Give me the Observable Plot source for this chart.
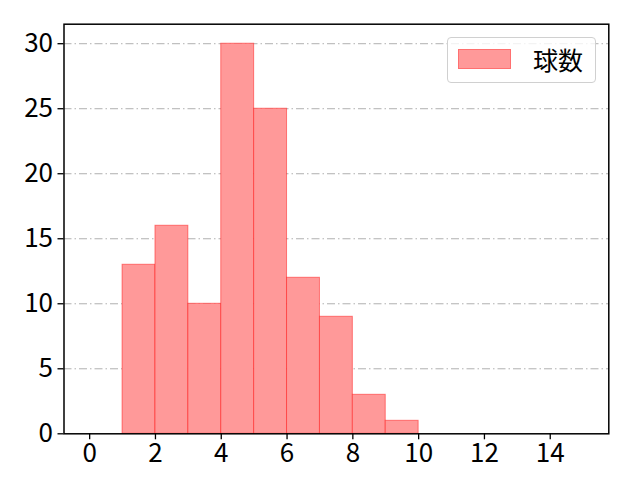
<!DOCTYPE html>
<html><head><meta charset="utf-8">
<script src="https://cdn.jsdelivr.net/npm/d3@7"></script>
<script src="https://cdn.jsdelivr.net/npm/@observablehq/plot@0.6"></script>
<style>
body{margin:0;background:#fff;font-family:"Noto Sans CJK JP","DejaVu Sans",sans-serif;}
#wrap{position:relative;width:640px;height:480px;}
#legend{position:absolute;left:447px;top:37px;width:149px;height:46px;border:1px solid #d0d0d0;border-radius:4px;background:rgba(255,255,255,0.8);box-sizing:border-box;z-index:2;}
#legend .sw{position:absolute;left:10px;top:11px;width:53px;height:20px;background:#ff9999;border:1px solid #ff7070;box-sizing:border-box;}
#legend .tx{position:absolute;left:85px;top:4px;font-size:25px;color:#000;line-height:34px;}
</style></head>
<body><div id="wrap"><div id="legend"><div class="sw"></div><div class="tx">球数</div></div></div>
<script>
const binStart = [1,2,3,4,5,6,7,8,9];
const binEnd = [2,3,4,5,6,7,8,9,10];
const counts = [13,16,10,30,25,12,9,3,1];
const xTicks = [0,2,4,6,8,10,12,14];
const yTicks = [0,5,10,15,20,25,30];
const seriesName = "球数";

const data = binStart.map((s,i)=>({x1:s,x2:binEnd[i],y:counts[i]}));
const ff = '"Noto Sans CJK JP","DejaVu Sans",sans-serif';

const chart = Plot.plot({
  width:640, height:480,
  marginLeft:63.5, marginRight:31.7, marginTop:23.7, marginBottom:46.7,
  style:{fontFamily:ff,fontSize:"26px",color:"#000",background:"#fff"},
  x:{domain:[-0.78,15.78], label:null},
  y:{domain:[0,31.5], label:null},
  marks:[
    Plot.gridY(yTicks.slice(1), {stroke:"#b0b0b0", strokeOpacity:1, strokeWidth:1, strokeDasharray:"8,3,1.5,3"}),
    Plot.rectY(data, {x1:"x1", x2:"x2", y:"y", fill:"#ff9999", stroke:"#ff0000", strokeOpacity:0.45, strokeWidth:1}),
    Plot.axisX({ticks:xTicks, tickSize:6, tickPadding:4, fontSize:26, stroke:"#000", strokeWidth:1.3}),
    Plot.axisY({ticks:yTicks, tickSize:6, tickPadding:5, fontSize:26, stroke:"#000", strokeWidth:1.3}),
    Plot.frame({stroke:"#000", strokeWidth:1.5})
  ]
});
document.getElementById("wrap").prepend(chart);
chart.style.position="absolute";chart.style.left="0";chart.style.top="0";
</script>
</body></html>
